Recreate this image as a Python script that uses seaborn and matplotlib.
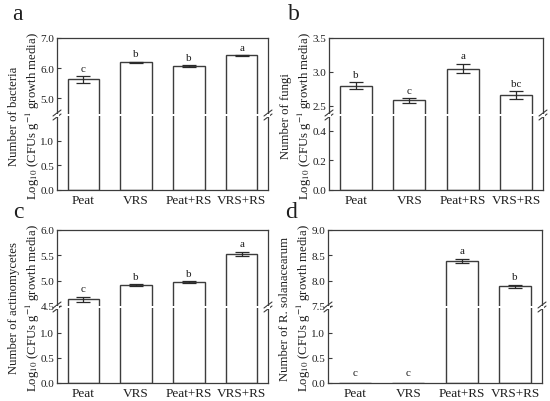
import numpy as np
import matplotlib
matplotlib.use("Agg")
import matplotlib.pyplot as plt
import seaborn as sns
import pandas as pd

sns.set_style("ticks")
plt.rcParams["font.family"] = ["Liberation Serif", "DejaVu Serif"]
plt.rcParams["mathtext.fontset"] = "stix"

##### data ###################################################################
categories = ["Peat", "VRS", "Peat+RS", "VRS+RS"]

bacteria_mean = [5.62, 6.19, 6.07, 6.42]
bacteria_se = [0.11, 0.02, 0.02, 0.01]
bacteria_letters = ["c", "b", "b", "a"]

fungi_mean = [2.80, 2.58, 3.05, 2.66]
fungi_se = [0.05, 0.035, 0.07, 0.055]
fungi_letters = ["b", "c", "a", "bc"]

actino_mean = [4.63, 4.91, 4.97, 5.53]
actino_se = [0.05, 0.02, 0.02, 0.04]
actino_letters = ["c", "b", "b", "a"]

rs_mean = [0.0, 0.0, 8.39, 7.89]
rs_se = [0.0, 0.0, 0.04, 0.03]
rs_letters = ["c", "c", "a", "b"]

W, H = 550, 402
EDGE = "#3c3c3c"
TXT = "#1e1e1e"

panels = [
    dict(letter="a", mean=bacteria_mean, se=bacteria_se, sig=bacteria_letters,
         name="Number of bacteria", box=(57, 268, 39, 191), brk=116,
         up_lim=(4.47, 7.0), up_ticks=[5.0, 6.0, 7.0],
         lo_lim=(0, 1.5), lo_ticks=[0.0, 0.5, 1.0], pos=(12, 20)),
    dict(letter="b", mean=fungi_mean, se=fungi_se, sig=fungi_letters,
         name="Number of fungi", box=(329, 543, 39, 191), brk=116,
         up_lim=(2.38, 3.5), up_ticks=[2.5, 3.0, 3.5],
         lo_lim=(0, 0.5), lo_ticks=[0.0, 0.2, 0.4], pos=(288, 20)),
    dict(letter="c", mean=actino_mean, se=actino_se, sig=actino_letters,
         name="Number of actinomycetes", box=(57, 268, 231, 384), brk=308,
         up_lim=(4.5, 6.0), up_ticks=[4.5, 5.0, 5.5, 6.0],
         lo_lim=(0, 1.5), lo_ticks=[0.0, 0.5, 1.0], pos=(13, 218)),
    dict(letter="d", mean=rs_mean, se=rs_se, sig=rs_letters,
         name="Number of R. solanacearum", box=(328, 542, 231, 384), brk=308,
         up_lim=(7.5, 9.0), up_ticks=[7.5, 8.0, 8.5, 9.0],
         lo_lim=(0, 1.5), lo_ticks=[0.0, 0.5, 1.0], pos=(285, 218)),
]


def px_rect(left, right, top, bottom):
    return [left / W, 1 - bottom / H, (right - left) / W, (bottom - top) / H]


def style_axis(ax, lim, ticks):
    ax.set_ylim(*lim)
    ax.set_yticks(ticks)
    ax.set_yticklabels([f"{t:.1f}" for t in ticks], color=TXT)
    ax.set_xlim(-0.5, 3.5)
    ax.tick_params(axis="y", direction="in", length=3, width=0.8,
                   labelsize=8, pad=2, color=EDGE)
    for sp in ax.spines.values():
        sp.set_color(EDGE)
        sp.set_linewidth(0.9)
    ax.set_xlabel("")
    ax.set_ylabel("")


def break_marks(fig, x, y):
    # little "//" marks across a spine at the break (pixel coordinates)
    for dy in (-2, 2):
        fig.add_artist(plt.Line2D([(x - 4) / W, (x + 4) / W],
                                  [1 - (y + dy + 3) / H, 1 - (y + dy - 3) / H],
                                  color=EDGE, lw=0.8))
    fig.add_artist(plt.Rectangle(((x - 1.5) / W, 1 - (y + 1.5) / H), 3 / W, 3 / H,
                                 facecolor="white", edgecolor="none", zorder=5))


fig = plt.figure(figsize=(W / 100, H / 100), dpi=100)

for p in panels:
    left, right, top, bottom = p["box"]
    brk = p["brk"]
    ax_up = fig.add_axes(px_rect(left, right, top, brk - 1))
    ax_lo = fig.add_axes(px_rect(left, right, brk + 1, bottom))
    df = pd.DataFrame({"treatment": categories, "value": p["mean"]})
    for ax in (ax_up, ax_lo):
        sns.barplot(data=df, x="treatment", y="value", order=categories,
                    color="white", edgecolor=EDGE, linewidth=1.0, width=0.6,
                    errorbar=None, ax=ax)
    style_axis(ax_up, p["up_lim"], p["up_ticks"])
    style_axis(ax_lo, p["lo_lim"], p["lo_ticks"])
    ax_up.spines["bottom"].set_visible(False)
    ax_up.tick_params(axis="x", bottom=False, labelbottom=False)
    ax_lo.spines["top"].set_visible(False)
    ax_lo.tick_params(axis="x", length=0, labelsize=9.5, pad=3, labelcolor=TXT)

    xs = np.arange(len(categories))
    mean = np.array(p["mean"])
    se = np.array(p["se"])
    has = mean > 0
    ax_up.errorbar(xs[has], mean[has], yerr=se[has], fmt="none",
                   ecolor="#2a2a2a", elinewidth=0.9, capsize=4.7, capthick=0.9)
    for i, s in enumerate(p["sig"]):
        if mean[i] > 0:
            ax_up.annotate(s, (xs[i], mean[i] + se[i]), xytext=(0, 2.5),
                           textcoords="offset points", ha="center", va="bottom",
                           fontsize=8, color=TXT)
        else:
            ax_lo.annotate(s, (xs[i], 0), xytext=(0, 4),
                           textcoords="offset points", ha="center", va="bottom",
                           fontsize=8, color=TXT)

    break_marks(fig, left, brk)
    break_marks(fig, right, brk)

    fig.text((left - 32) / W, 1 - ((top + bottom) / 2 + 1) / H,
             p["name"] + "\nLog$_{10}$ (CFUs g$^{-1}$ growth media)",
             rotation=90, ha="center", va="center", multialignment="center",
             fontsize=9.2, color=TXT, linespacing=1.25)
    fig.text(p["pos"][0] / W, 1 - p["pos"][1] / H, p["letter"], fontsize=17,
             ha="left", va="baseline", color=TXT)

plt.savefig("out.png", dpi=100)
plt.close()
